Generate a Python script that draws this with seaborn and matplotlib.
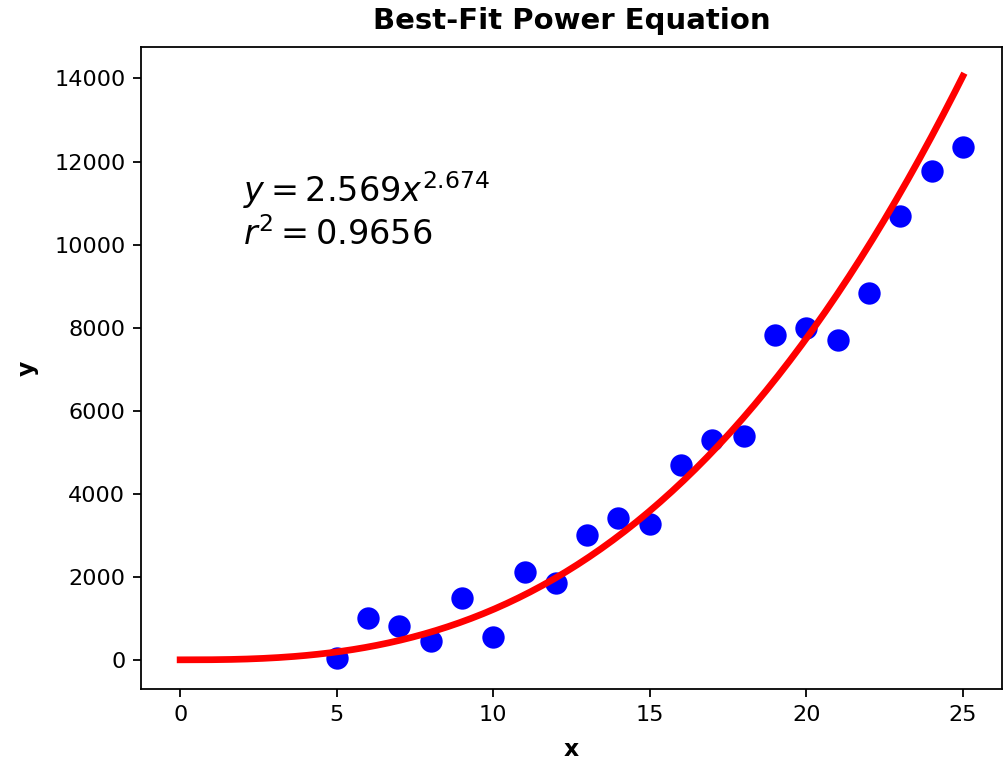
import numpy as np
import pandas as pd
import matplotlib
matplotlib.use("Agg")
import matplotlib.pyplot as plt
import seaborn as sns

# Observed data
x_vals = [5, 6, 7, 8, 9, 10, 11, 12, 13, 14, 15, 16, 17, 18, 19, 20, 21, 22, 23, 24, 25]
y_vals = [50, 1010, 820, 460, 1490, 550, 2120, 1860, 3010, 3420, 3280,
          4700, 5300, 5400, 7830, 7980, 7710, 8840, 10700, 11780, 12360]

# Fitted power-law coefficients: y = a * x^b
coef_a = 2.569
coef_b = 2.674
r_squared = 0.9656

df = pd.DataFrame({"x": x_vals, "y": y_vals})
x_fit = np.linspace(0, 25, 200)
fit_df = pd.DataFrame({"x": x_fit, "y": coef_a * x_fit ** coef_b})

fig = plt.figure(figsize=(1003 / 161, 761 / 161), dpi=161)
ax = fig.add_axes([141 / 1003, 1 - 689 / 761, (1002 - 141) / 1003, (689 - 47) / 761])

sns.scatterplot(data=df, x="x", y="y", ax=ax, color="blue", s=100,
                edgecolor="blue", linewidth=0, zorder=2)
sns.lineplot(data=fit_df, x="x", y="y", ax=ax, color="red", linewidth=3, zorder=3)

ax.text(2, 10000,
        f"$y = {coef_a}x^{{{coef_b}}}$\n$r^2 = {r_squared}$",
        fontsize=15)

ax.set_title("Best-Fit Power Equation", fontweight="bold", fontsize=13, pad=8)
ax.set_xlabel("x", fontweight="bold", fontsize=10.5, labelpad=6)
ax.set_ylabel("y", fontweight="bold", fontsize=10.5, labelpad=7)

fig.savefig("out.png", dpi=161)
